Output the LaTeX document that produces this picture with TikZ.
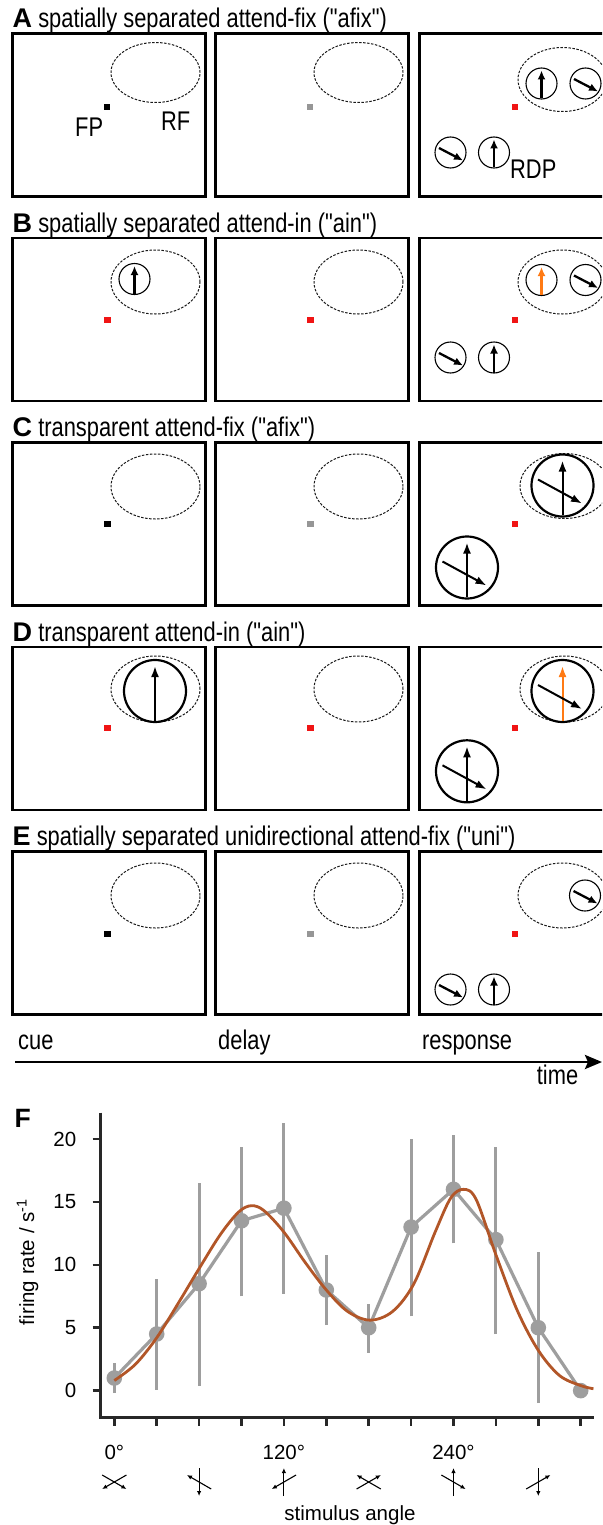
\documentclass[tikz,border=0pt]{standalone}
\usepackage{fontspec}
\usetikzlibrary{arrows.meta}
\setmainfont{Liberation Sans}
\newfontfamily\nfont{Liberation Sans}[FakeStretch=0.81]
\newfontfamily\rfont{Liberation Sans}
\definecolor{myorange}{RGB}{255,122,20}
\definecolor{myred}{RGB}{240,20,20}
\definecolor{fpgrey}{RGB}{150,150,150}
\definecolor{datag}{RGB}{158,158,158}
\definecolor{fitbrown}{RGB}{178,86,40}
\definecolor{axisc}{RGB}{40,40,40}
\tikzset{
  boxline/.style={draw=black, line width=2.3pt},
  rfline/.style={draw=black!90, line width=1pt, dash pattern=on 2.5pt off 1.5pt},
  smallc/.style={draw=black, line width=1.1pt},
  sarrow/.style={line width=2.3pt, -{Latex[length=9pt,width=8pt]}},
  bigc/.style={draw=black, line width=2.2pt},
  barrow/.style={line width=2pt, -{Latex[length=11pt,width=8pt]}},
  ttl/.style={inner sep=0pt, anchor=base west, font=\nfont\fontsize{27}{30}\selectfont},
  lbl/.style={inner sep=0pt, anchor=base west, font=\nfont\fontsize{27}{30}\selectfont},
  flbl/.style={inner sep=0pt, font=\rfont\fontsize{20.5}{24}\selectfont},
  axisl/.style={draw=axisc, line width=2.6pt},
  ebar/.style={draw=datag, line width=3pt},
  dline/.style={draw=datag, line width=3.2pt, line join=round},
  fitc/.style={draw=fitbrown, line width=2.8pt},
  iarrow/.style={line width=1.1pt, -{Latex[length=5pt,width=4.5pt]}},
  timearrow/.style={line width=2.8pt, -{Stealth[length=17pt,width=14pt,inset=3pt]}}
}
\newcommand\Dbox{\draw[boxline] (0,0) rectangle (193,163);}
\newcommand\Dell[3]{\draw[rfline] (#1,#2) ellipse [x radius=44.5pt, y radius=#3pt];}
\newcommand\Dfp[3]{\fill[#3] (#1-3.2,#2-3) rectangle (#1+3.2,#2+3);}
\newcommand\Dup[3]{\draw[smallc] (#1,#2) circle [radius=15.5pt];
  \draw[sarrow,#3] (#1,#2+15) -- (#1,#2-13);}
\newcommand\Ddg[2]{\draw[smallc] (#1,#2) circle [radius=15.5pt];
  \draw[sarrow] (#1-11.5,#2-4.5) -- (#1+12.5,#2+8);}
\newcommand\Dtc[3]{\draw[bigc] (#1,#2) circle [radius=31pt];
  \draw[barrow,#3] (#1,#2+29.5) -- (#1,#2-25);
  \draw[barrow] (#1-24.5,#2-6) -- (#1+19.5,#2+18);}
\begin{document}
\begin{tikzpicture}[x=1pt,y=-1pt]
\useasboundingbox (0,0) rectangle (602,1525);
\clip (0,0) rectangle (602,1525);
\fill[white] (0,0) rectangle (602,1525);

% ---------- titles ----------
\node[ttl] (tA) at (12.5,27.5) {{\rfont\bfseries A} spatially separated attend-fix ("afix")};
\node[ttl] (tB) at (12.5,232) {{\rfont\bfseries B} spatially separated attend-in ("ain")};
\node[ttl] (tC) at (12.5,436.5) {{\rfont\bfseries C} transparent attend-fix ("afix")};
\node[ttl] (tD) at (12.5,641) {{\rfont\bfseries D} transparent attend-in ("ain")};
\node[ttl] (tE) at (12.5,845.5) {{\rfont\bfseries E} spatially separated unidirectional attend-fix ("uni")};

% ---------- row A ----------
\begin{scope}[shift={(12.5,33.5)}]
  \Dbox \Dell{143}{39}{30} \Dfp{94.5}{73.5}{black}
  \node[lbl] (fp) at (62.5,103.4) {FP};
  \node[lbl] (rf) at (148.5,96.7) {RF};
\end{scope}
\begin{scope}[shift={(215.5,33.5)}]
  \Dbox \Dell{143}{39}{30} \Dfp{94.5}{73.5}{fpgrey}
\end{scope}
\begin{scope}[shift={(419.5,33.5)}]
  \Dbox \Dell{143}{46}{32} \Dfp{95.5}{73.5}{myred}
  \Dup{122}{50}{black} \Ddg{166}{50}
  \Ddg{31}{119} \Dup{74.5}{119}{black}
  \node[lbl] (rdp) at (90.5,145) {RDP};
\end{scope}

% ---------- row B ----------
\begin{scope}[shift={(12.5,238)}]
  \Dbox \Dell{143}{44}{32} \Dfp{95}{81.5}{myred}
  \Dup{122}{41}{black}
\end{scope}
\begin{scope}[shift={(215.5,238)}]
  \Dbox \Dell{143}{44}{32} \Dfp{95}{81.5}{myred}
\end{scope}
\begin{scope}[shift={(419.5,238)}]
  \Dbox \Dell{143}{44}{32} \Dfp{95.5}{81.5}{myred}
  \Dup{122}{42}{myorange} \Ddg{166}{42}
  \Ddg{31}{119.5} \Dup{74.5}{119.5}{black}
\end{scope}

% ---------- row C ----------
\begin{scope}[shift={(12.5,442.5)}]
  \Dbox \Dell{143}{44}{32.5} \Dfp{95}{81.5}{black}
\end{scope}
\begin{scope}[shift={(215.5,442.5)}]
  \Dbox \Dell{143}{44}{32.5} \Dfp{95}{81.5}{fpgrey}
\end{scope}
\begin{scope}[shift={(419.5,442.5)}]
  \Dbox \Dell{145}{43.5}{32.5} \Dfp{95.5}{81}{myred}
  \Dtc{143}{43}{black}
  \Dtc{47.5}{125}{black}
\end{scope}

% ---------- row D ----------
\begin{scope}[shift={(12.5,647)}]
  \Dbox \Dell{143}{42}{33} \Dfp{95}{80.5}{myred}
  \draw[bigc] (142.5,44) circle [radius=31pt];
  \draw[barrow] (142.5,44+29.5) -- (142.5,44-25);
\end{scope}
\begin{scope}[shift={(215.5,647)}]
  \Dbox \Dell{143}{42}{33} \Dfp{95}{80.5}{myred}
\end{scope}
\begin{scope}[shift={(419.5,647)}]
  \Dbox \Dell{145}{42}{33} \Dfp{95.5}{80.5}{myred}
  \Dtc{143}{44}{myorange}
  \Dtc{47.5}{124.3}{black}
\end{scope}

% ---------- row E ----------
\begin{scope}[shift={(12.5,851.5)}]
  \Dbox \Dell{143}{44}{32.5} \Dfp{95}{82}{black}
\end{scope}
\begin{scope}[shift={(215.5,851.5)}]
  \Dbox \Dell{143}{44}{32.5} \Dfp{95}{82}{fpgrey}
\end{scope}
\begin{scope}[shift={(419.5,851.5)}]
  \Dbox \Dell{143}{44}{32.5} \Dfp{95.5}{82}{myred}
  \Ddg{165.5}{44}
  \Ddg{31}{138} \Dup{74.5}{138}{black}
\end{scope}

% ---------- time axis ----------
\node[lbl] (cue) at (18,1049) {cue};
\node[lbl] (delay) at (218,1049) {delay};
\node[lbl] (resp) at (422,1049) {response};
\node[lbl] (time) at (536.7,1084) {time};
\coordinate (tstart) at (15,1062);
\coordinate (tend) at (602,1062);
\draw[timearrow] (tstart) -- (tend);

% ---------- panel F ----------
\node[inner sep=0pt, anchor=base west, font=\rfont\bfseries\fontsize{26.5}{30}\selectfont] (tF) at (14.5,1127) {F};
\draw[axisl, line join=miter] (100.6,1112.7) -- (100.6,1417.7) -- (594,1417.7);
\foreach \v in {0,5,10,15,20} {
  \draw[axisl] (92.7,1390.6-12.58*\v) -- (100.6,1390.6-12.58*\v);
  \node[flbl, anchor=east] (yl\v) at (76.5,1390.6-12.58*\v) {\v};
}
\foreach \i in {0,...,11} {
  \draw[axisl] (114.3+42.4*\i,1417.7) -- (114.3+42.4*\i,1425.5);
}
\node[flbl, anchor=base] (x0) at (114.3,1459) {0°};
\node[flbl, anchor=base] (x120) at (283.9,1459) {120°};
\node[flbl, anchor=base] (x240) at (453.5,1459) {240°};
\node[flbl, anchor=center, rotate=90] (ylab) at (27.5,1262) {firing rate / s\textsuperscript{-1}};
\node[flbl, anchor=base] (xlab) at (350,1520) {stimulus angle};

\foreach \i/\a/\b in {0/210/330, 2/150/270, 4/90/210, 6/30/150, 8/330/90, 10/270/30} {
  \begin{scope}[shift={(114.3+42.4*\i,1482)}]
    \draw[iarrow] (180-\a:14) -- (-\a:14);
    \draw[iarrow] (180-\b:14) -- (-\b:14);
  \end{scope}
}

\begin{scope}[shift={(114.3,1390.6)}, x=1.41333pt, y=12.58pt]
  \foreach \t/\lo/\hi in {0/-0.2/2.2, 30/0.05/8.9, 60/0.4/16.5, 90/7.5/19.4, 120/7.7/21.3, 150/5.2/10.8, 180/3.0/6.9, 210/5.9/20.0, 240/11.7/20.3, 270/4.5/19.4, 300/-1.0/11.0}
    \draw[ebar] (\t,\lo) -- (\t,\hi);
  \draw[dline] (0,1) -- (30,4.5) -- (60,8.5) -- (90,13.5) -- (120,14.5) -- (150,8) -- (180,5) -- (210,13) -- (240,16) -- (270,12) -- (300,5) -- (330,0);
  \foreach \t/\v in {0/1, 30/4.5, 60/8.5, 90/13.5, 120/14.5, 150/8, 180/5, 210/13, 240/16, 270/12, 300/5, 330/0}
    \fill[datag] (\t,\v) circle [radius=7.8pt];
  \draw[fitc] plot[smooth, tension=0.55] coordinates {(0,0.8) (15,2.1) (30,4.2) (45,6.9) (60,9.7) (75,12.4) (88,14.2) (97,14.7) (106,14.3) (120,12.6) (135,10.2) (150,8.0) (165,6.3) (181,5.6) (197,6.3) (212,8.5) (227,12.6) (238,15.3) (247,16.0) (256,15.2) (270,10.8) (285,6.4) (300,3.2) (315,1.2) (330,0.4) (339,0.15)};
\end{scope}
\end{tikzpicture}
\end{document}
